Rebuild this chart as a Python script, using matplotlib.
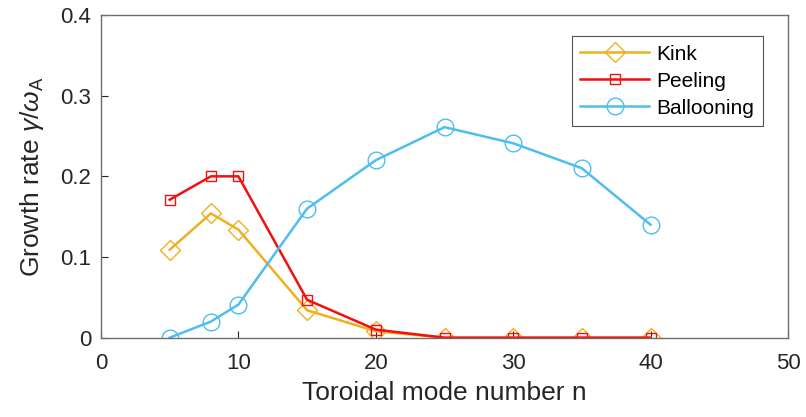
import matplotlib
matplotlib.use("Agg")
import matplotlib.pyplot as plt

plt.rcParams['font.family'] = ['Liberation Sans', 'DejaVu Sans']
plt.rcParams['mathtext.fontset'] = 'custom'
plt.rcParams['mathtext.rm'] = 'Liberation Sans'
plt.rcParams['mathtext.it'] = 'Liberation Sans:italic'

# -------------------------------------------------
# Data
# -------------------------------------------------
n = [5, 8, 10, 15, 20, 25, 30, 35, 40]
kink = [0.109, 0.154, 0.134, 0.034, 0.008, 0, 0, 0, 0]
peeling = [0.171, 0.200, 0.200, 0.047, 0.010, 0, 0, 0, 0]
ballooning = [0.0, 0.020, 0.041, 0.160, 0.220, 0.261, 0.241, 0.210, 0.140]

c_kink = '#EDB120'
c_peel = '#F01010'
c_ball = '#4DBEEE'
axis_gray = '#262626'

# -------------------------------------------------
# Plot
# -------------------------------------------------
fig = plt.figure(figsize=(8.06, 4.17), dpi=100)
ax = fig.add_axes([0.1253, 0.1902, 0.8524, 0.7738])

ax.plot(n, kink, '-D', color=c_kink, lw=1.8, ms=10, mfc='none', mew=1.0, label='Kink')
ax.plot(n, peeling, '-s', color=c_peel, lw=1.8, ms=7.5, mfc='none', mew=1.0, label='Peeling')
ax.plot(n, ballooning, '-o', color=c_ball, lw=1.8, ms=12, mfc='none', mew=1.0, label='Ballooning')

ax.set_xlim(0, 50)
ax.set_ylim(0, 0.4)
ax.set_xticks([0, 10, 20, 30, 40, 50])
ax.set_yticks([0, 0.1, 0.2, 0.3, 0.4])
ax.set_yticklabels(['0', '0.1', '0.2', '0.3', '0.4'])

ax.tick_params(direction='in', length=5, width=0.8, colors=axis_gray,
               labelsize=16, labelcolor=axis_gray, top=False, right=False)
ax.tick_params(axis='x', pad=11)
ax.tick_params(axis='y', pad=7)
for s in ax.spines.values():
    s.set_color('#6e6e6e')
    s.set_linewidth(1.0)

ax.set_xlabel('Toroidal mode number n', fontsize=19, color=axis_gray, labelpad=5)
ax.set_ylabel(r'Growth rate $\gamma/\omega_{\mathrm{A}}$', fontsize=19, color=axis_gray, labelpad=10)

leg = ax.legend(loc='upper right', bbox_to_anchor=(0.9636, 0.935), borderaxespad=0,
                fontsize=15, frameon=True, fancybox=False, edgecolor='#262626',
                handlelength=3.3, handletextpad=0.35, borderpad=0.42, labelspacing=0.38)
leg.get_frame().set_linewidth(0.8)

fig.savefig('out.png', dpi=100)
